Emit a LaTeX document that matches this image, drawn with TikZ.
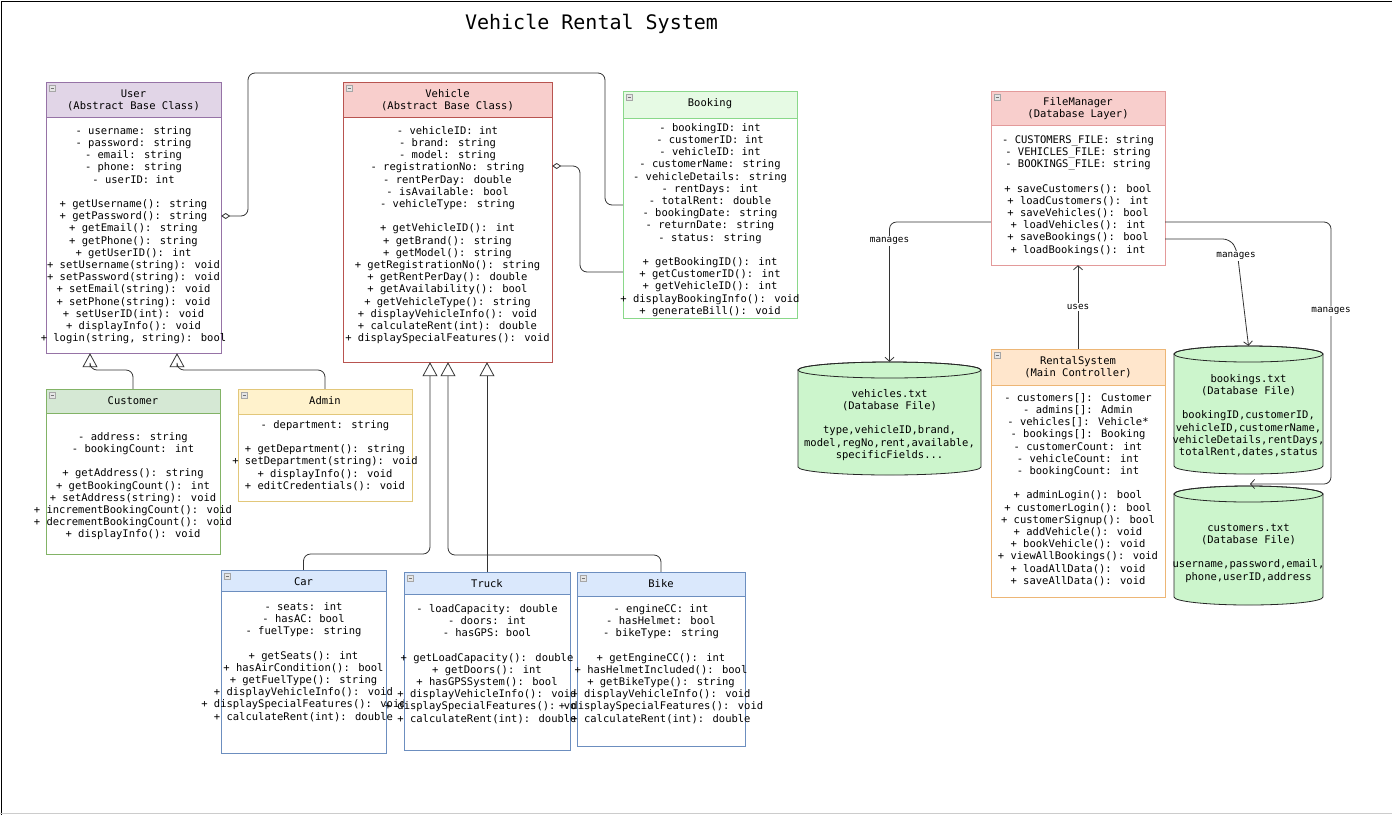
\documentclass[tikz,border=0pt]{standalone}
\usepackage{fontspec}
\newfontfamily\dmono{DejaVu Sans Mono}
\usetikzlibrary{arrows.meta,fit}
\definecolor{userfill}{HTML}{E1D5E7}\definecolor{userdraw}{HTML}{9673A6}
\definecolor{redfill}{HTML}{F8CECC}\definecolor{reddraw}{HTML}{B85450}
\definecolor{fmdraw}{HTML}{E39A9A}
\definecolor{bkfill}{HTML}{E6FAE4}\definecolor{bkdraw}{HTML}{8AD88A}
\definecolor{cusfill}{HTML}{D5E8D4}\definecolor{cusdraw}{HTML}{82B366}
\definecolor{admfill}{HTML}{FFF2CC}\definecolor{admdraw}{HTML}{E2C77A}
\definecolor{rsfill}{HTML}{FFE6CC}\definecolor{rsdraw}{HTML}{EDB676}
\definecolor{blufill}{HTML}{DAE8FC}\definecolor{bludraw}{HTML}{6C8EBF}
\definecolor{cylfill}{HTML}{CCF5CC}
\definecolor{linec}{HTML}{333333}
\newcommand{\umlbox}[8]{%
  \node[fit={(#2,#3)(#4,#5)}, inner sep=0pt, fill=white] (#1) {};
  \fill[#7] (#2,#3) rectangle (#4,#6);
  \draw[#8, line width=0.8pt] (#2,#3) rectangle (#4,#5) (#2,#6) -- (#4,#6);
  \draw[gray!70, fill=gray!20, line width=0.4pt] (#2+3,#3+3) rectangle ++(6,6);
  \draw[gray!90!black, line width=0.6pt] (#2+4.5,#3+6) -- ++(3,0);
}
\newcommand{\btext}[4]{\node[txt, anchor=north] (#1) at (#2,#3-9) {\rule{0pt}{9pt}#4};}
\newcommand{\cyl}[7]{% name, x1, x2, ytop-centre, ybottom-centre, ry, text-node
  \filldraw[fill=cylfill, draw=black!85, line width=0.8pt] (#2,#4) -- (#2,#5)
    arc[start angle=180, end angle=360, x radius={(#3-#2)/2*1pt}, y radius=#6pt] -- (#3,#4)
    arc[start angle=0, end angle=180, x radius={(#3-#2)/2*1pt}, y radius=#6pt] -- cycle;
  \draw[line width=0.8pt, draw=black!85] ({(#2+#3)/2},#4) ellipse [x radius={(#3-#2)/2*1pt}, y radius=#6pt];
  \node[fit={(#2,#4-#6)(#3,#5+#6)}, inner sep=0pt] (#1) {};
}
\begin{document}
\begin{tikzpicture}[x=1pt,y=-1pt,
  txt/.style={font=\dmono\fontsize{10.5}{12.2}\selectfont, align=center, inner sep=0pt, text=black},
  lbl/.style={font=\dmono\fontsize{9.3}{11}\selectfont, fill=white, inner sep=1pt, text=black},
  conn/.style={draw=linec, line width=0.8pt, rounded corners=7pt},
  inh/.style={conn, -{Triangle[open, length=14pt, width=15pt]}},
  agg/.style={conn, {Diamond[open, length=9pt, width=6pt]}-},
  dep/.style={conn, -{Straight Barb[length=4pt, width=9pt]}}]
\useasboundingbox (0,0) rectangle (1392,815);
\fill[white] (0,0) rectangle (1392,815);
\draw[black, line width=1pt] (1.5,815) -- (1.5,1.5) -- (1392,1.5);
\draw[gray!40, line width=1pt] (0,813.5) -- (1392,813.5);

\node[font=\dmono\fontsize{20}{24}\selectfont, anchor=base, inner sep=0pt] (title) at (591.5,29) {Vehicle Rental System};

% ---------- classes ----------
\umlbox{user}{46}{82}{221}{353}{117}{userfill}{userdraw}
\btext{userh}{133.5}{97}{User\\(Abstract Base Class)}
\btext{userb}{133.5}{134}{- username: string\\- password: string\\- email: string\\- phone: string\\- userID: int\\[12.2pt]+ getUsername(): string\\+ getPassword(): string\\+ getEmail(): string\\+ getPhone(): string\\+ getUserID(): int\\+ setUsername(string): void\\+ setPassword(string): void\\+ setEmail(string): void\\+ setPhone(string): void\\+ setUserID(int): void\\+ displayInfo(): void\\+ login(string, string): bool}

\umlbox{vehicle}{343}{82}{552}{362}{117}{redfill}{reddraw}
\btext{vehicleh}{447.5}{97}{Vehicle\\(Abstract Base Class)}
\btext{vehicleb}{447.5}{134}{- vehicleID: int\\- brand: string\\- model: string\\- registrationNo: string\\- rentPerDay: double\\- isAvailable: bool\\- vehicleType: string\\[12.2pt]+ getVehicleID(): int\\+ getBrand(): string\\+ getModel(): string\\+ getRegistrationNo(): string\\+ getRentPerDay(): double\\+ getAvailability(): bool\\+ getVehicleType(): string\\+ displayVehicleInfo(): void\\+ calculateRent(int): double\\+ displaySpecialFeatures(): void}

\umlbox{booking}{623}{91}{797}{318}{118}{bkfill}{bkdraw}
\btext{bookingh}{710}{106}{Booking}
\btext{bookingb}{710}{131}{- bookingID: int\\- customerID: int\\- vehicleID: int\\- customerName: string\\- vehicleDetails: string\\- rentDays: int\\- totalRent: double\\- bookingDate: string\\- returnDate: string\\- status: string\\[12.2pt]+ getBookingID(): int\\+ getCustomerID(): int\\+ getVehicleID(): int\\+ displayBookingInfo(): void\\+ generateBill(): void}

\umlbox{filemanager}{991}{91}{1165}{265}{125}{redfill}{fmdraw}
\btext{filemanagerh}{1078}{105}{FileManager\\(Database Layer)}
\btext{filemanagerb}{1078}{143}{- CUSTOMERS\_FILE: string\\- VEHICLES\_FILE: string\\- BOOKINGS\_FILE: string\\[12.2pt]+ saveCustomers(): bool\\+ loadCustomers(): int\\+ saveVehicles(): bool\\+ loadVehicles(): int\\+ saveBookings(): bool\\+ loadBookings(): int}

\umlbox{rental}{991}{349}{1165}{597}{385}{rsfill}{rsdraw}
\btext{rentalh}{1078}{364}{RentalSystem\\(Main Controller)}
\btext{rentalb}{1078}{401}{- customers[]: Customer\\- admins[]: Admin\\- vehicles[]: Vehicle*\\- bookings[]: Booking\\- customerCount: int\\- vehicleCount: int\\- bookingCount: int\\[12.2pt]+ adminLogin(): bool\\+ customerLogin(): bool\\+ customerSignup(): bool\\+ addVehicle(): void\\+ bookVehicle(): void\\+ viewAllBookings(): void\\+ loadAllData(): void\\+ saveAllData(): void}

\umlbox{customer}{46}{389}{220}{554}{413}{cusfill}{cusdraw}
\btext{customerh}{133}{404}{Customer}
\btext{customerb}{133}{440}{- address: string\\- bookingCount: int\\[12.2pt]+ getAddress(): string\\+ getBookingCount(): int\\+ setAddress(string): void\\+ incrementBookingCount(): void\\+ decrementBookingCount(): void\\+ displayInfo(): void}

\umlbox{admin}{238}{389}{412}{501}{414}{admfill}{admdraw}
\btext{adminh}{325}{404}{Admin}
\btext{adminb}{325}{428}{- department: string\\[12.2pt]+ getDepartment(): string\\+ setDepartment(string): void\\+ displayInfo(): void\\+ editCredentials(): void}

\umlbox{car}{221}{570}{386}{753}{591}{blufill}{bludraw}
\btext{carh}{303.5}{585}{Car}
\btext{carb}{303.5}{610}{- seats: int\\- hasAC: bool\\- fuelType: string\\[12.2pt]+ getSeats(): int\\+ hasAirCondition(): bool\\+ getFuelType(): string\\+ displayVehicleInfo(): void\\+ displaySpecialFeatures(): void\\+ calculateRent(int): double}

\umlbox{truck}{404}{572}{570}{750}{594}{blufill}{bludraw}
\btext{truckh}{487}{587}{Truck}
\btext{truckb}{487}{612}{- loadCapacity: double\\- doors: int\\- hasGPS: bool\\[12.2pt]+ getLoadCapacity(): double\\+ getDoors(): int\\+ hasGPSSystem(): bool\\+ displayVehicleInfo(): void\\+ displaySpecialFeatures(): void\\+ calculateRent(int): double}

\umlbox{bike}{577}{572}{745}{746}{596}{blufill}{bludraw}
\btext{bikeh}{661}{587}{Bike}
\btext{bikeb}{661}{612}{- engineCC: int\\- hasHelmet: bool\\- bikeType: string\\[12.2pt]+ getEngineCC(): int\\+ hasHelmetIncluded(): bool\\+ getBikeType(): string\\+ displayVehicleInfo(): void\\+ displaySpecialFeatures(): void\\+ calculateRent(int): double}

% ---------- database files ----------
\cyl{vehfile}{798}{981}{370}{467}{8}{}
\btext{vehfilet}{889.5}{397}{vehicles.txt\\(Database File)\\[12.2pt]type,vehicleID,brand,\\model,regNo,rent,available,\\specificFields...}
\cyl{bkfile}{1174}{1323}{354}{466}{8}{}
\btext{bkfilet}{1248.5}{382}{bookings.txt\\(Database File)\\[12.2pt]bookingID,customerID,\\vehicleID,customerName,\\vehicleDetails,rentDays,\\totalRent,dates,status}
\cyl{cusfile}{1174}{1323}{494}{597}{8}{}
\btext{cusfilet}{1248.5}{531}{customers.txt\\(Database File)\\[12.2pt]username,password,email,\\phone,userID,address}

% ---------- connectors ----------
\draw[agg] (user.east |- 0,216) -- (248,216) -- (248,73) -- (605,73) -- (605,205) -- (booking.west |- 0,205);
\draw[agg] (vehicle.east |- 0,166) -- (580,166) -- (580,272) -- (booking.west |- 0,272);
\draw[inh] (customer.north) -- (133,370) -- (90,370) -- (user.south -| 90,0);
\draw[inh] (admin.north) -- (325,370) -- (177,370) -- (user.south -| 177,0);
\draw[inh] (car.north) -- (303.5,554) -- (430,554) -- (vehicle.south -| 430,0);
\draw[inh] (truck.north) -- (vehicle.south -| 487,0);
\draw[inh] (bike.north) -- (661,555) -- (448,555) -- (vehicle.south -| 448,0);
\draw[dep] (filemanager.west |- 0,222) -- (889.5,222) -- (vehfile.north);
\node[lbl] (m1) at (889.5,241) {manages};
\draw[dep] (filemanager.east |- 0,239) -- (1230,239) -- (1237,250) -- (bkfile.north);
\node[lbl] (m2) at (1236,256) {manages};
\draw[dep] (filemanager.east |- 0,222) -- (1331,222) -- (1331,484) -- (1250,484);
\node[lbl] (m3) at (1331,311) {manages};
\draw[dep] (rental.north) -- (filemanager.south);
\node[lbl] (u1) at (1078,307) {uses};
\end{tikzpicture}
\end{document}
